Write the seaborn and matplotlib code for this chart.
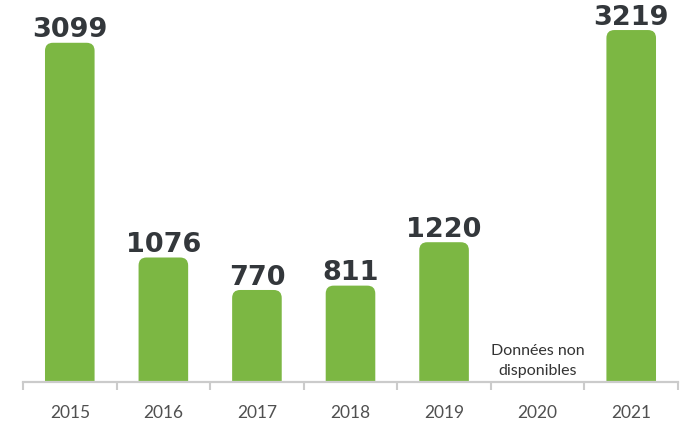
import numpy as np
import pandas as pd
import seaborn as sns
import matplotlib.pyplot as plt
from matplotlib.patches import FancyBboxPatch
from matplotlib.ticker import FixedLocator

# Yearly counts; no figure was published for 2020
years = ["2015", "2016", "2017", "2018", "2019", "2020", "2021"]
counts = [3099, 1076, 770, 811, 1220, np.nan, 3219]
missing_label = "Données non\ndisponibles"

bar_color = "#7cb743"
axis_color = "#cbcbcb"
value_color = "#33373b"
year_color = "#505050"

# Bars rise from a floor slightly below zero so short bars keep some body
floor = -97
y_top = 3502

sns.set_theme(style="white")
plt.rcParams["font.family"] = ["Lato", "DejaVu Sans"]

fig = plt.figure(figsize=(6.82, 4.22), dpi=100)
ax = fig.add_axes([23 / 682, 40 / 422, 655 / 682, 382 / 422])

df = pd.DataFrame({"year": years, "count": counts})
sns.barplot(data=df, x="year", y="count", color=bar_color, width=0.53,
            saturation=1, ax=ax, linewidth=0)

ax.set_xlim(-0.5, len(years) - 0.5)
ax.set_ylim(floor, y_top)

# Convert the default rectangles into bars with rounded top corners
fig.canvas.draw()
inv = ax.transData.inverted()
(x0d, y0d), (x1d, y1d) = inv.transform([(0, 0), (1, 1)])
x_per_px = abs(x1d - x0d)
y_per_px = abs(y1d - y0d)
radius_px = 8
r_x = radius_px * x_per_px
aspect = y_per_px / x_per_px
# start below the visible floor so the bottom rounding is clipped away
hidden = 3 * radius_px * y_per_px

bars = list(ax.patches)
for p in bars:
    h = p.get_height()
    x = p.get_x()
    w = p.get_width()
    p.remove()
    if not np.isfinite(h):
        continue
    ax.add_patch(FancyBboxPatch((x, floor - hidden), w, h - floor + hidden,
                                boxstyle=f"round,pad=0,rounding_size={r_x}",
                                mutation_aspect=aspect,
                                facecolor=bar_color, edgecolor="none",
                                zorder=2, clip_on=True))
    ax.annotate(f"{int(h)}", (x + w / 2, h), xytext=(0, -0.5),
                textcoords="offset points", ha="center", va="bottom",
                fontsize=19.5, fontweight="bold", color=value_color,
                family="DejaVu Sans", zorder=3)

# Note for the year without data
i_missing = years.index("2020")
ax.annotate(missing_label, (i_missing, floor), xytext=(0, 3),
            textcoords="offset points", ha="center", va="bottom",
            fontsize=11.5, color="#333333", linespacing=1.55)

# Axis styling: a single grey baseline with separators between years
for side in ["left", "right", "top"]:
    ax.spines[side].set_visible(False)
ax.spines["bottom"].set_color(axis_color)
ax.spines["bottom"].set_linewidth(1.6)
ax.spines["bottom"].set_zorder(4)
ax.set_yticks([])
ax.set_xlabel("")
ax.set_ylabel("")
ax.xaxis.set_minor_locator(FixedLocator(np.arange(-0.5, len(years), 1.0)))
ax.tick_params(axis="x", which="major", length=0, pad=16.5, labelsize=12.5,
               labelcolor=year_color)
ax.tick_params(axis="x", which="minor", bottom=True, length=6, width=1.5,
               color=axis_color, direction="out")
ax.set_facecolor("white")
fig.patch.set_facecolor("white")

fig.savefig("out.png", dpi=100)
